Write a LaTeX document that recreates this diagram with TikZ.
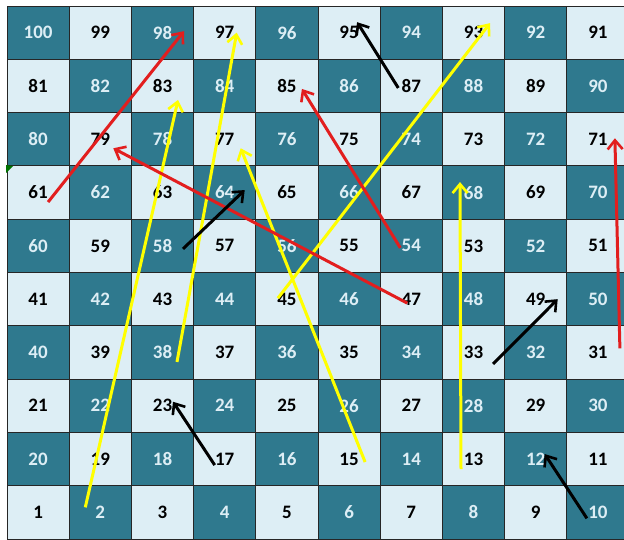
\documentclass[tikz,border=0pt]{standalone}
\usepackage{fontspec}
\usepackage{xcolor}
\usepackage{tikz}
\usetikzlibrary{arrows.meta,calc}
\newfontfamily\boardfont{Carlito}
\definecolor{teal}{RGB}{47,121,142}
\definecolor{pale}{RGB}{221,238,245}
\definecolor{snakered}{RGB}{226,30,30}
\definecolor{ladderyel}{RGB}{255,255,0}

\begin{document}
\begin{tikzpicture}[x=1pt, y=-1pt,
    cell/.style={draw=black!85, line width=0.9pt, minimum width=62.2pt, minimum height=53.3pt, inner sep=0pt, outer sep=0pt, font=\boardfont\fontsize{19}{19}\selectfont\bfseries},
    darksq/.style={cell, fill=teal, text=pale},
    lightsq/.style={cell, fill=pale, text=black},
    jump/.style={line width=3pt, -{Straight Barb[length=9pt, width=15pt, line width=2.6pt]}}]
    \useasboundingbox (0,0) rectangle (624,539);
    \clip (0,0) rectangle (624,539);

    % Board squares
    \foreach \n in {1,...,100} {
        \pgfmathtruncatemacro{\rw}{(\n-1)/10}
        \pgfmathtruncatemacro{\md}{mod(\n-1,10)}
        \pgfmathtruncatemacro{\cl}{mod(\rw,2)==0 ? \md : 9-\md}
        \pgfmathtruncatemacro{\dk}{mod(\cl+\rw,2)}
        \ifnum\dk=1 \def\sq{darksq}\else\def\sq{lightsq}\fi
        \node[\sq] (c\n) at ({7+62.2*(\cl+0.5)},{6+53.3*(9-\rw+0.5)}) {\n};
    }
    \fill[green!45!black] (6,165) -- (13,166) -- (6,173) -- cycle;

    % Ladders
    \draw[jump, ladderyel] ($(c2)+(-15,-5)$) -- ($(c83)+(15.5,14)$);
    \draw[jump, ladderyel] ($(c38)+(14.5,9.5)$) -- ($(c97)+(12,0)$);
    \draw[jump, ladderyel] ($(c15)+(16,3)$) -- ($(c77)+(16,9)$);
    \draw[jump, ladderyel] ($(c45)+(-9,-1)$) -- ($(c93)+(16.5,-9.5)$);
    \draw[jump, ladderyel] ($(c13)+(-12.5,10)$) -- ($(c68)+(-13.5,-10.5)$);

    % Snakes
    \draw[jump, snakered] ($(c61)+(10,9.5)$) -- ($(c98)+(21.5,-1.5)$);
    \draw[jump, snakered] ($(c47)+(-4,4)$) -- ($(c79)+(13,9)$);
    \draw[jump, snakered] ($(c54)+(-11,2)$) -- ($(c85)+(15,3)$);
    \draw[jump, snakered] ($(c31)+(22,-4)$) -- ($(c71)+(17,-1)$);

    % Short jumps
    \draw[jump, black] ($(c87)+(-13,2)$) -- ($(c95)+(8,-10.5)$);
    \draw[jump, black] ($(c58)+(20.5,3)$) -- ($(c64)+(20,-2.5)$);
    \draw[jump, black] ($(c17)+(-10,6)$) -- ($(c23)+(10.5,-4)$);
    \draw[jump, black] ($(c33)+(19.5,11.5)$) -- ($(c49)+(22,0)$);
    \draw[jump, black] ($(c10)+(-11,6)$) -- ($(c12)+(9,-5)$);
\end{tikzpicture}
\end{document}
